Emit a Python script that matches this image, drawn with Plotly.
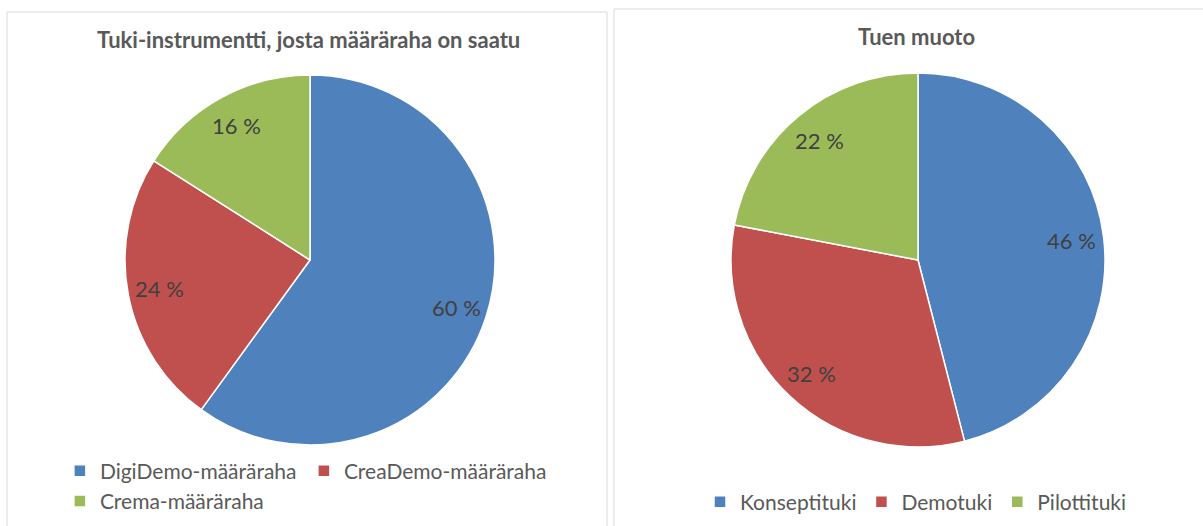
import math
import plotly.graph_objects as go

# ---- data ----
title_left = "Tuki-instrumentti, josta määräraha on saatu"
labels_left = ["DigiDemo-määräraha", "CreaDemo-määräraha", "Crema-määräraha"]
values_left = [60, 24, 16]

title_right = "Tuen muoto"
labels_right = ["Konseptituki", "Demotuki", "Pilottituki"]
values_right = [46, 32, 22]

colors = ["#4F81BD", "#C0504D", "#9BBB59"]

# ---- layout geometry (pixels) ----
FW, FH = 1203, 526
ML = 60
PW, PH = FW - ML, FH
FONT = "Lato"


def fx(px):
    return (px - ML) / PW


def fy(py):
    return 1 - py / PH


def pie_domain(cx, cy, r):
    return dict(x=[fx(cx - r), fx(cx + r)], y=[fy(cy + r), fy(cy - r)])


pies = [
    dict(cx=310, cy=260, r=185, labels=labels_left, values=values_left, legend="legend"),
    dict(cx=918, cy=260, r=187, labels=labels_right, values=values_right, legend="legend2"),
]

fig = go.Figure()
annotations = []
for p in pies:
    fig.add_trace(go.Pie(
        labels=p["labels"], values=p["values"],
        marker=dict(colors=colors, line=dict(color="white", width=1.5)),
        sort=False, direction="clockwise", rotation=0,
        textinfo="none", hoverinfo="label+percent",
        domain=pie_domain(p["cx"], p["cy"], p["r"]),
        legend=p["legend"],
    ))
    total = sum(p["values"])
    cum = 0
    for v in p["values"]:
        mid = (cum + v / 2) / total * 2 * math.pi
        cum += v
        rl = 0.83 * p["r"]
        x = p["cx"] + rl * math.sin(mid)
        y = p["cy"] - rl * math.cos(mid)
        annotations.append(dict(
            x=fx(x), y=fy(y), xref="paper", yref="paper",
            text=f"{v} %", showarrow=False,
            font=dict(family=FONT, size=22, color="#404040"),
            xanchor="center", yanchor="middle",
        ))

annotations.append(dict(x=fx(308), y=fy(40), xref="paper", yref="paper",
                        text=f"<b>{title_left}</b>", showarrow=False,
                        font=dict(family=FONT, size=22, color="#595959"),
                        xanchor="center", yanchor="middle"))
annotations.append(dict(x=fx(916), y=fy(36), xref="paper", yref="paper",
                        text=f"<b>{title_right}</b>", showarrow=False,
                        font=dict(family=FONT, size=22, color="#595959"),
                        xanchor="center", yanchor="middle"))

shapes = [
    dict(type="rect", xref="paper", yref="paper",
         x0=fx(7), x1=fx(607), y0=fy(540), y1=fy(12),
         line=dict(color="#d9d9d9", width=1), fillcolor="rgba(0,0,0,0)"),
    dict(type="rect", xref="paper", yref="paper",
         x0=fx(614), x1=fx(1215), y0=fy(540), y1=fy(9),
         line=dict(color="#d9d9d9", width=1), fillcolor="rgba(0,0,0,0)"),
]

fig.update_layout(
    width=FW, height=FH,
    margin=dict(l=ML, r=0, t=0, b=0, autoexpand=False),
    paper_bgcolor="white", plot_bgcolor="white",
    font=dict(family=FONT, color="#595959"),
    showlegend=True,
    legend=dict(orientation="h", x=-0.0001, xanchor="left",
                y=fy(486), yanchor="middle",
                entrywidth=199, entrywidthmode="pixels",
                font=dict(family=FONT, size=21, color="#595959"),
                bgcolor="rgba(0,0,0,0)"),
    legend2=dict(orientation="h", x=fx(916), xanchor="center",
                 y=fy(502), yanchor="middle",
                 font=dict(family=FONT, size=21, color="#595959"),
                 bgcolor="rgba(0,0,0,0)"),
    annotations=annotations,
    shapes=shapes,
)

fig.write_html("out.html", config={"displayModeBar": False},
               post_script="document.body.style.margin='0';document.body.style.overflow='hidden';")
